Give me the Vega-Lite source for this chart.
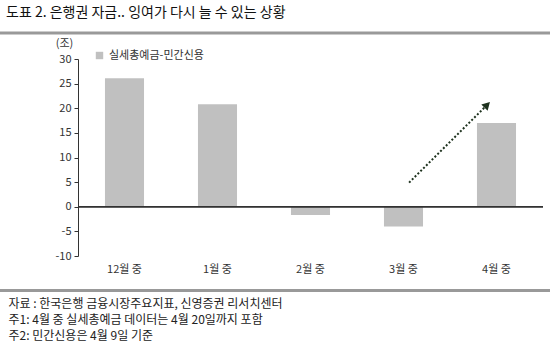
{
  "$schema": "https://vega.github.io/schema/vega-lite/v6.json",
  "width": 465,
  "height": 197,
  "autosize": {"type": "none"},
  "padding": {"left": 78, "top": 59, "right": 7, "bottom": 95},
  "background": "white",
  "config": {
    "view": {"stroke": null},
    "font": "Noto Sans CJK KR",
    "axisY": {
      "labelOverlap": false,
      "labelExpr": "'' + datum.value",
      "grid": false, "domainColor": "#333", "tickColor": "#333",
      "tickSize": 4, "labelFontSize": 11, "labelColor": "#333",
      "labelPadding": 3,
      "titleAngle": 0, "titleX": -14, "titleY": -16,
      "titleAlign": "center", "titleBaseline": "middle",
      "titleFontSize": 11, "titleFontWeight": "normal", "titleColor": "#333"
    }
  },
  "title": {
    "text": "도표 2. 은행권 자금.. 잉여가 다시 늘 수 있는 상황",
    "anchor": "start",
    "frame": "group",
    "dx": -72,
    "offset": 11,
    "fontSize": 14,
    "fontWeight": "normal",
    "color": "#111"
  },
  "datasets": {
    "bars": [
      {"month": "12월 중", "value": 26.1, "series": "실세총예금-민간신용"},
      {"month": "1월 중", "value": 20.8, "series": "실세총예금-민간신용"},
      {"month": "2월 중", "value": -1.7, "series": "실세총예금-민간신용"},
      {"month": "3월 중", "value": -4.0, "series": "실세총예금-민간신용"},
      {"month": "4월 중", "value": 17.0, "series": "실세총예금-민간신용"}
    ],
    "arrow": [
      {"pos": 3.56, "value": 4.9},
      {"pos": 4.4, "value": 20.7}
    ],
    "head": [
      {"pos": 4.4, "value": 20.7}
    ]
  },
  "layer": [
    {
      "data": {"name": "bars"},
      "mark": {"type": "bar", "color": "#c0c0c0"},
      "encoding": {
        "x": {
          "field": "month", "type": "nominal", "sort": null,
          "scale": {"paddingInner": 0.58, "paddingOuter": 0.29},
          "axis": {
            "domain": false, "ticks": false, "labelAngle": 0,
            "labelPadding": 7, "labelFontSize": 11, "labelColor": "#333",
            "title": ["자료 :  한국은행 금융시장주요지표, 신영증권 리서치센터", "주1: 4월 중 실세총예금 데이터는 4월 20일까지 포함", "주2: 민간신용은 4월 9일 기준"],
            "titleAnchor": "start", "titleAlign": "left", "titleBaseline": "top",
            "titleX": -70, "titleY": 42, "titleFontSize": 12, "titleFontWeight": "normal",
            "titleColor": "#222", "titleLineHeight": 16
          }
        },
        "y": {
          "field": "value", "type": "quantitative",
          "scale": {"domain": [-10, 30], "nice": false},
          "axis": {"values": [-10, -5, 0, 5, 10, 15, 20, 25, 30], "title": "(조)"}
        },
        "color": {
          "field": "series", "type": "nominal",
          "scale": {"range": ["#c0c0c0"]},
          "legend": {
            "title": null, "orient": "none", "legendX": 16, "legendY": -9,
            "symbolType": "square", "symbolSize": 55, "labelFontSize": 11,
            "labelColor": "#333", "symbolStrokeWidth": 0
          }
        }
      }
    },
    {
      "data": {"name": "bars"},
      "mark": {"type": "rule", "color": "#333", "strokeWidth": 1},
      "encoding": {"y": {"datum": 0, "type": "quantitative", "axis": {"values": [-10, -5, 0, 5, 10, 15, 20, 25, 30], "title": "(조)"}}}
    },
    {
      "data": {"name": "arrow"},
      "mark": {"type": "line", "color": "#1e321e", "strokeWidth": 2, "strokeDash": [2, 2], "clip": false},
      "encoding": {
        "x": {"field": "pos", "type": "quantitative", "scale": {"domain": [0, 5], "nice": false, "zero": false}, "axis": null},
        "y": {"field": "value", "type": "quantitative", "axis": {"values": [-10, -5, 0, 5, 10, 15, 20, 25, 30], "title": "(조)"}}
      }
    },
    {
      "data": {"name": "head"},
      "mark": {"type": "point", "shape": "triangle-up", "angle": 45, "filled": true, "size": 80, "color": "#1e321e", "opacity": 1, "clip": false},
      "encoding": {
        "x": {"field": "pos", "type": "quantitative", "scale": {"domain": [0, 5], "nice": false, "zero": false}, "axis": null},
        "y": {"field": "value", "type": "quantitative", "axis": {"values": [-10, -5, 0, 5, 10, 15, 20, 25, 30], "title": "(조)"}}
      }
    },
    {
      "data": {"name": "head"},
      "mark": {"type": "rule", "color": "#999", "strokeWidth": 3, "clip": false},
      "encoding": {
        "x": {"datum": -0.84, "type": "quantitative", "scale": {"domain": [0, 5], "nice": false, "zero": false}, "axis": null},
        "x2": {"datum": 5.08},
        "y": {"datum": 35.3, "type": "quantitative", "axis": {"values": [-10, -5, 0, 5, 10, 15, 20, 25, 30], "title": "(조)"}}
      }
    },
    {
      "data": {"name": "head"},
      "mark": {"type": "rule", "color": "#999", "strokeWidth": 3, "clip": false},
      "encoding": {
        "x": {"datum": -0.84, "type": "quantitative", "scale": {"domain": [0, 5], "nice": false, "zero": false}, "axis": null},
        "x2": {"datum": 5.08},
        "y": {"datum": -17.0, "type": "quantitative", "axis": {"values": [-10, -5, 0, 5, 10, 15, 20, 25, 30], "title": "(조)"}}
      }
    }
  ],
  "resolve": {"scale": {"x": "independent"}}
}
